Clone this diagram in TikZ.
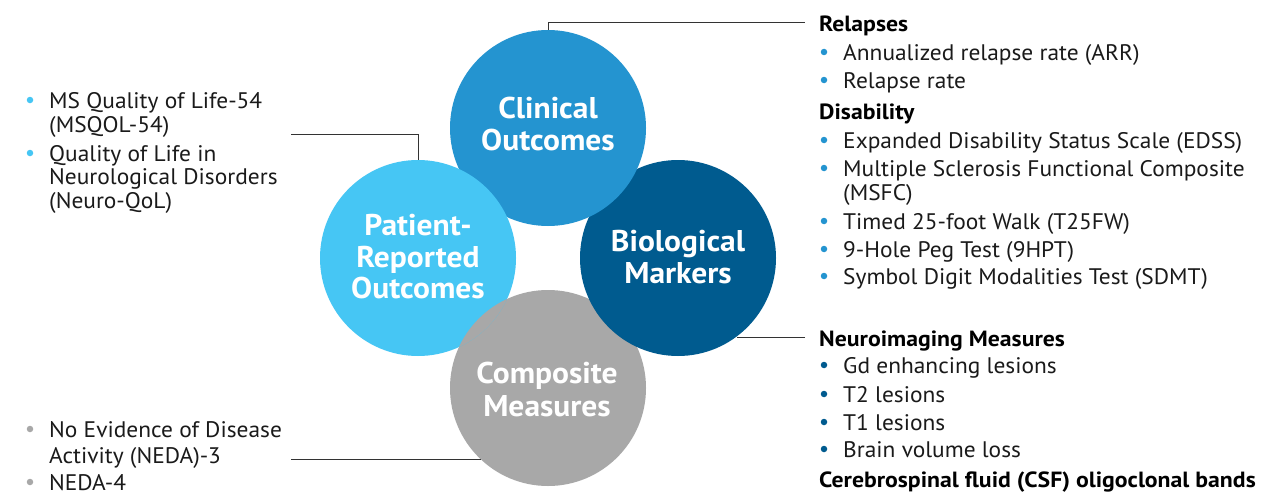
\documentclass[tikz,border=0pt]{standalone}
\usepackage{fontspec}
\setmainfont{PT Sans}[FakeStretch=1.04]
\newfontfamily\hfont{PT Sans}[FakeStretch=1.08]
\newfontfamily\lfont{PT Sans}[FakeStretch=1.05]
\definecolor{cclin}{HTML}{2494D0}
\definecolor{cpat}{HTML}{46C6F4}
\definecolor{cbio}{HTML}{005B8F}
\definecolor{cgrey}{HTML}{A8A8A8}
\definecolor{ctext}{HTML}{1A1A1A}
\definecolor{cline}{HTML}{333333}
\begin{document}
\begin{tikzpicture}[x=1pt,y=-1pt,
 ball/.style={circle, inner sep=0pt, outer sep=0pt, minimum size=196pt},
 lbl/.style={anchor=base, text=white, font=\lfont\fontsize{30}{32}\selectfont\bfseries, inner sep=0pt},
 txt/.style={anchor=base west, inner sep=0pt, text depth=0pt, text=ctext, font=\fontsize{22.5}{24}\selectfont},
 head/.style={anchor=base west, inner sep=0pt, text depth=0pt, text=black, font=\hfont\fontsize{22}{24}\selectfont\bfseries},
 bul/.style={circle, inner sep=0pt, minimum size=6.5pt},
 conn/.style={draw=cline, line width=1pt}]
\useasboundingbox (0,0) rectangle (1265,495);
\fill[white] (0,0) rectangle (1265,495);
% circles
\node[ball, fill=cgrey] (comp) at (548,388) {};
\node[ball, fill=cbio] (bio) at (678,258) {};
\node[ball, fill=cclin] (clin) at (548,128) {};
\node[ball, fill=cpat] (pat) at (418,258) {};
\begin{scope}
 \clip (418,258) circle[radius=98pt];
 \fill[cgrey] (548,388) circle[radius=98pt];
\end{scope}
% labels
\node[lbl] (l1) at (548,118) {Clinical};
\node[lbl] (l2) at (548,150) {Outcomes};
\node[lbl] (l3) at (418,235) {Patient-};
\node[lbl] (l4) at (418,267) {Reported};
\node[lbl] (l5) at (418,298) {Outcomes};
\node[lbl] (l6) at (678,251) {Biological};
\node[lbl] (l7) at (678,283) {Markers};
\node[lbl] (l8) at (547,383) {Composite};
\node[lbl] (l9) at (547,416) {Measures};
% connectors
\coordinate (cr) at (805,23);
\draw[conn] (clin.north) |- (cr);
\coordinate (pl) at (291,134);
\draw[conn] (pl) -| (pat.north);
\coordinate (br) at (805,337);
\draw[conn] (br) -- (br -| bio.-53.7);
\coordinate (ml) at (291,459);
\draw[conn] (ml) -- (ml -| comp.-133.6);
% right headings
\foreach \y/\t [count=\i] in {32/Relapses, 119/Disability, 346/Neuroimaging Measures, 487/{Cerebrospinal fluid (CSF) oligoclonal bands}}
 \node[head] (h\i) at (819,\y) {\t};
% right bullets, blue
\foreach \y/\t [count=\i] in {60/{Annualized relapse rate (ARR)}, 88/Relapse rate, 148/{Expanded Disability Status Scale (EDSS)}, 176/{Multiple Sclerosis Functional Composite}, 229/{Timed 25-foot Walk (T25FW)}, 257/{9-Hole Peg Test (9HPT)}, 284/{Symbol Digit Modalities Test (SDMT)}}
 {\node[bul, fill=cclin] (rb\i) at (824,\y-8) {};
  \node[txt] (rt\i) at (843,\y) {\t};}
\node[txt] (rc1) at (843,200) {(MSFC)};
% right bullets, dark blue
\foreach \y/\t [count=\i] in {373/Gd enhancing lesions, 402/T2 lesions, 430/T1 lesions, 457/Brain volume loss}
 {\node[bul, fill=cbio] (nb\i) at (824,\y-8) {};
  \node[txt] (nt\i) at (843,\y) {\t};}
% left top
\foreach \y/\t [count=\i] in {108/{MS Quality of Life-54}, 161/{Quality of Life in}}
 {\node[bul, fill=cpat] (pb\i) at (30,\y-8) {};
  \node[txt] (pt\i) at (49,\y) {\t};}
\node[txt] (pc1) at (49,132) {(MSQOL-54)};
\node[txt] (pc2) at (49,184) {Neurological Disorders};
\node[txt] (pc3) at (49,208) {(Neuro-QoL)};
% left bottom
\foreach \y/\t [count=\i] in {437/{No Evidence of Disease}, 490/{NEDA-4}}
 {\node[bul, fill=cgrey] (gb\i) at (30,\y-8) {};
  \node[txt] (gt\i) at (49,\y) {\t};}
\node[txt] (gc1) at (49,463) {Activity (NEDA)-3};
\end{tikzpicture}
\end{document}
